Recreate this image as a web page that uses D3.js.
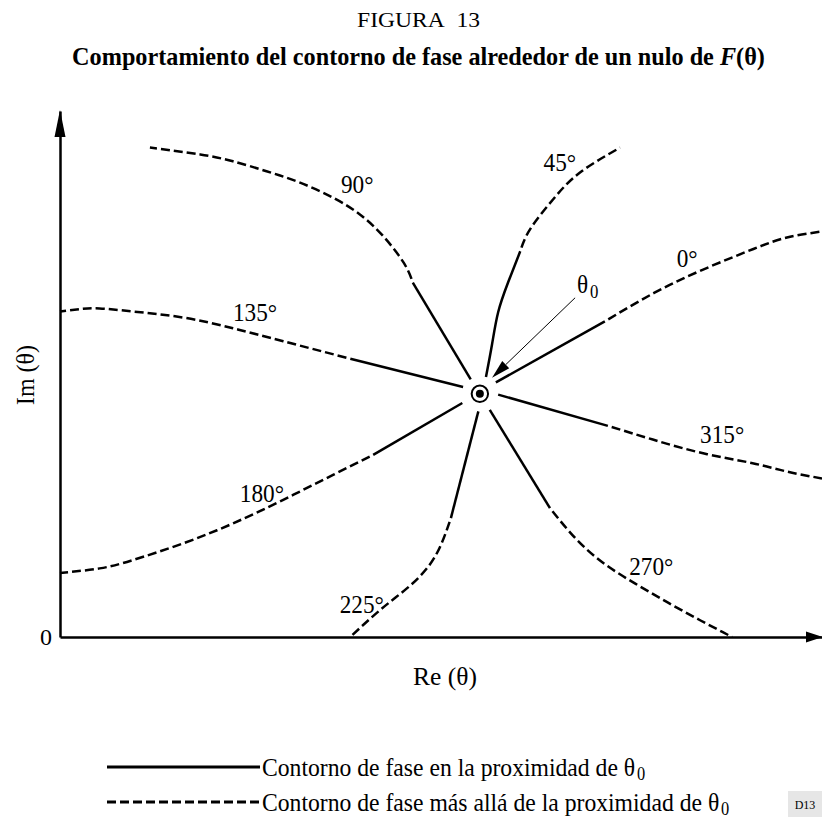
<!DOCTYPE html>
<html>
<head>
<meta charset="utf-8">
<script src="https://cdn.jsdelivr.net/npm/d3@7"></script>
<style>
  body { margin: 0; background: #fff; }
  text { font-family: "Liberation Serif", "Times New Roman", serif; fill: #000; }
</style>
</head>
<body>
<svg id="chart" width="822" height="819"></svg>
<script>
// phase contours around a null of F(theta), in (Re, Im) plot units
var nullPoint = [5.51, 3.19];
var phases = [0, 45, 90, 135, 180, 225, 270, 315];

// part of each contour close to theta0 (solid)
var nearPaths = [
  [[5.72, 3.34], [7.15, 4.14]],
  [[5.59, 3.41], [5.67, 3.84], [5.75, 4.26], [5.88, 4.65], [6.04, 5.06]],
  [[5.39, 3.38], [4.63, 4.65]],
  [[5.29, 3.28], [3.81, 3.65]],
  [[5.28, 3.07], [4.11, 2.39]],
  [[5.49, 2.96], [5.13, 1.56]],
  [[5.64, 2.98], [6.43, 1.69]],
  [[5.75, 3.18], [7.19, 2.77]]
];

// part of each contour further away (dashed)
var farPaths = [
  [[7.15, 4.14], [7.79, 4.51], [8.44, 4.82], [9.10, 5.09], [9.54, 5.24], [10.0, 5.32]],
  [[6.04, 5.06], [6.17, 5.35], [6.47, 5.74], [6.82, 6.09], [7.35, 6.42]],
  [[4.63, 4.65], [4.51, 4.91], [4.24, 5.26], [3.94, 5.54], [3.59, 5.76], [3.15, 5.96], [2.71, 6.11], [2.27, 6.24], [1.84, 6.33], [1.18, 6.42]],
  [[3.81, 3.65], [2.93, 3.88], [2.27, 4.05], [1.62, 4.19], [0.96, 4.27], [0.52, 4.31], [0.25, 4.30], [0, 4.27]],
  [[4.11, 2.39], [3.59, 2.13], [2.93, 1.80], [2.27, 1.49], [1.62, 1.23], [0.96, 1.01], [0.52, 0.90], [0, 0.84]],
  [[5.13, 1.56], [5.00, 1.21], [4.83, 0.92], [4.59, 0.67], [4.33, 0.46], [4.07, 0.24], [3.81, 0]],
  [[6.43, 1.69], [6.76, 1.30], [7.13, 0.97], [7.55, 0.70], [7.98, 0.45], [8.40, 0.22], [8.82, 0]],
  [[7.19, 2.77], [7.78, 2.59], [8.44, 2.41], [9.09, 2.28], [9.54, 2.17], [10.0, 2.08]]
];

// where the phase labels sit
var labelAt = [[8.23, 4.85], [6.56, 6.11], [3.90, 5.83], [2.56, 4.14], [2.65, 1.77], [3.96, 0.32], [7.76, 0.81], [8.69, 2.55]];

// theta0 pointer: from, to
var pointer = [[6.76, 4.45], [5.67, 3.40]];

var titleText = "Comportamiento del contorno de fase alrededor de un nulo de ";
var figText = "FIGURA\u00a0 13";
var legendText = ["Contorno de fase en la proximidad de ", "Contorno de fase más allá de la proximidad de "];

var svg = d3.select("#chart");

var x = d3.scaleLinear().domain([0, 10]).range([60, 822]);
var y = d3.scaleLinear().domain([0, 6.9]).range([637, 111]);

// squeeze a text horizontally so it fills a given width (condensed Times look)
function fit(sel, width) {
  var len = sel.node().getComputedTextLength();
  var t = sel.attr("transform") || "";
  sel.attr("transform", t + " scale(" + (width / len) + ",1)");
}
function squeeze(sel, sx) {
  var t = sel.attr("transform") || "";
  sel.attr("transform", t + " scale(" + sx + ",1)");
}

// titles
svg.append("text").attr("transform", "translate(418.5,27)")
  .attr("text-anchor", "middle").style("font-size", "22px")
  .style("white-space", "pre").text(figText).call(fit, 123);

var title = svg.append("text").attr("transform", "translate(418.5,65)")
  .attr("text-anchor", "middle").style("font-size", "26px").style("font-weight", "bold");
title.append("tspan").text(titleText);
title.append("tspan").style("font-style", "italic").text("F");
title.append("tspan").text("(θ)");
title.call(fit, 693);

// axes
var xAxis = svg.append("g").attr("transform", "translate(0," + y(0) + ")")
  .call(d3.axisBottom(x).tickValues([]).tickSizeOuter(0));
var yAxis = svg.append("g").attr("transform", "translate(" + x(0) + ",0)")
  .call(d3.axisLeft(y).tickValues([0]).tickSize(0).tickSizeOuter(0).tickPadding(8).tickFormat(d3.format("d")));
svg.selectAll(".domain").attr("stroke", "#000").attr("stroke-width", 2.5);
yAxis.selectAll(".tick text").attr("font-family", null).attr("font-size", null)
  .style("font-size", "24px").attr("dy", "0.33em");

// arrow heads on the axes
svg.append("path")
  .attr("d", "M" + x(0) + "," + (y(6.9) - 1) + "L" + (x(0) - 5.5) + "," + (y(6.9) + 26) + "L" + (x(0) + 5.5) + "," + (y(6.9) + 26) + "Z")
  .attr("fill", "#000");
svg.append("path")
  .attr("d", "M" + (x(10) + 1) + "," + y(0) + "L" + (x(10) - 16) + "," + (y(0) - 5.5) + "L" + (x(10) - 16) + "," + (y(0) + 5.5) + "Z")
  .attr("fill", "#000");

svg.append("text").attr("transform", "translate(34,375) rotate(-90)")
  .attr("text-anchor", "middle").style("font-size", "25px").text("Im (θ)").call(fit, 60);
svg.append("text").attr("transform", "translate(445,685)")
  .attr("text-anchor", "middle").style("font-size", "25px").text("Re (θ)").call(fit, 64);

// contours
var line = d3.line().x(function (d) { return x(d[0]); }).y(function (d) { return y(d[1]); })
  .curve(d3.curveNatural);

svg.append("g").selectAll("path").data(nearPaths).join("path")
  .attr("d", line).attr("fill", "none").attr("stroke", "#000").attr("stroke-width", 2.5);
svg.append("g").selectAll("path").data(farPaths).join("path")
  .attr("d", line).attr("fill", "none").attr("stroke", "#000").attr("stroke-width", 2.5)
  .attr("stroke-dasharray", "9,4").attr("stroke-dashoffset", 9);

svg.append("g").selectAll("text").data(phases).join("text")
  .attr("transform", function (d, i) { return "translate(" + x(labelAt[i][0]) + "," + y(labelAt[i][1]) + ")"; })
  .attr("text-anchor", "middle").style("font-size", "25px")
  .text(function (d) { return d + "°"; })
  .each(function () { squeeze(d3.select(this), 0.93); });

// the null itself
svg.append("circle").attr("cx", x(nullPoint[0])).attr("cy", y(nullPoint[1])).attr("r", 8.2)
  .attr("fill", "#fff").attr("stroke", "#000").attr("stroke-width", 2);
svg.append("circle").attr("cx", x(nullPoint[0])).attr("cy", y(nullPoint[1])).attr("r", 4).attr("fill", "#000");

// theta0 pointer
var p0 = [x(pointer[0][0]), y(pointer[0][1])], p1 = [x(pointer[1][0]), y(pointer[1][1])];
var ang = Math.atan2(p1[1] - p0[1], p1[0] - p0[0]);
var hl = 19, hw = 5;
var bx = p1[0] - hl * Math.cos(ang), by = p1[1] - hl * Math.sin(ang);
svg.append("line").attr("x1", p0[0]).attr("y1", p0[1]).attr("x2", bx).attr("y2", by)
  .attr("stroke", "#000").attr("stroke-width", 1);
svg.append("path")
  .attr("d", "M" + p1[0] + "," + p1[1] +
    "L" + (bx + hw * Math.sin(ang)) + "," + (by - hw * Math.cos(ang)) +
    "L" + (bx - hw * Math.sin(ang)) + "," + (by + hw * Math.cos(ang)) + "Z")
  .attr("fill", "#000");
var th = svg.append("text").attr("transform", "translate(" + (p0[0] + 2) + "," + (p0[1] - 5) + ")")
  .style("font-size", "25px");
th.append("tspan").text("θ");
th.append("tspan").attr("dx", 2).attr("dy", 5).style("font-size", "18px").text("0");
squeeze(th, 0.93);

// legend
var legend = svg.append("g");
legendText.forEach(function (s, i) {
  var ly = 767 + i * 35;
  legend.append("line").attr("x1", 107).attr("x2", 260).attr("y1", ly).attr("y2", ly)
    .attr("stroke", "#000").attr("stroke-width", 2.8)
    .attr("stroke-dasharray", i ? "9,4" : null);
  var t = legend.append("text").attr("transform", "translate(262," + (ly + 9) + ")").style("font-size", "26px");
  t.append("tspan").text(s);
  t.append("tspan").text("θ");
  t.append("tspan").attr("dx", 2).attr("dy", 4).style("font-size", "18px").text("0");
  squeeze(t, 0.91);
});

// drawing reference tag
svg.append("rect").attr("x", 788).attr("y", 791).attr("width", 34).attr("height", 26).attr("fill", "#e6e6e6");
svg.append("text").attr("x", 805).attr("y", 809).attr("text-anchor", "middle")
  .style("font-size", "12px").text("D13");
</script>
</body>
</html>
